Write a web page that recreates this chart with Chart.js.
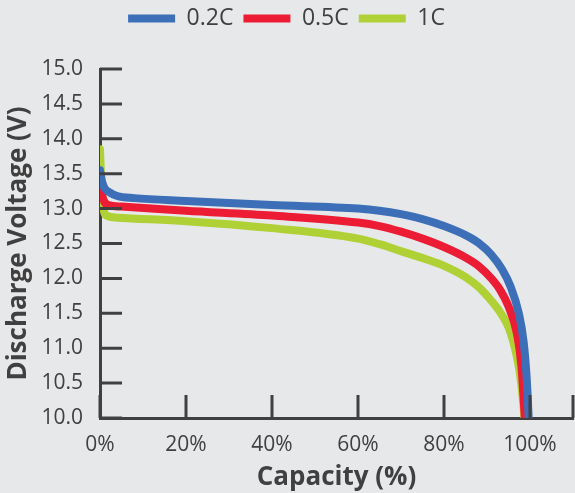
<!DOCTYPE html>
<html>
<head>
<meta charset="utf-8">
<script src="https://cdn.jsdelivr.net/npm/chart.js@4"></script>
<style>
  html, body { margin: 0; padding: 0; background: #e7e8ea; }
  #wrap { width: 575px; height: 493px; }
</style>
</head>
<body>
<div id="wrap"><canvas id="dischargeChart"></canvas></div>
<script>
// capacity (%) / voltage (V) pairs
const seriesNames = ["0.2C", "0.5C", "1C"];
const seriesColors = ["#3c6fb8", "#ed1c35", "#b0d135"];

const capacity02 = [0, 0.5, 1, 2, 4, 8, 20, 40, 60, 65, 70, 75, 80, 85, 88, 91, 93.5, 95.5, 97.4, 98.5, 99.2, 99.7];
const voltage02  = [13.55, 13.38, 13.3, 13.24, 13.18, 13.15, 13.11, 13.05, 13.0, 12.97, 12.92, 12.85, 12.75, 12.62, 12.51, 12.34, 12.13, 11.88, 11.5, 11.1, 10.6, 10.0];

const capacity05 = [0, 0.5, 1, 2, 5, 20, 40, 60, 65, 70, 75, 80, 85, 88, 91, 93, 95, 97, 98, 98.8];
const voltage05  = [13.5, 13.2, 13.1, 13.05, 13.03, 12.97, 12.9, 12.8, 12.75, 12.67, 12.57, 12.45, 12.3, 12.18, 12.0, 11.84, 11.6, 11.2, 10.75, 10.0];

const capacity1 = [0, 0.3, 0.8, 1.5, 4, 20, 40, 60, 65, 70, 76, 80, 85, 88, 91, 93, 95, 96.5, 97.5, 98.3, 98.7];
const voltage1  = [13.85, 13.4, 13.0, 12.9, 12.87, 12.82, 12.72, 12.57, 12.49, 12.39, 12.27, 12.18, 12.02, 11.88, 11.68, 11.52, 11.3, 11.0, 10.7, 10.3, 10.0];

const xTickValues = [0, 20, 40, 60, 80, 100, 110];
const xTickLabels = ["0%", "20%", "40%", "60%", "80%", "100%", ""];
const yTickValues = [10, 10.5, 11, 11.5, 12, 12.5, 13, 13.5, 14, 14.5, 15];

const axisColor = "#404040";
const fontFamily = "'Open Sans', sans-serif";

function toPoints(xs, ys) {
    return xs.map((x, i) => ({ x: x, y: ys[i] }));
}

const allSeries = [
    toPoints(capacity02, voltage02),
    toPoints(capacity05, voltage05),
    toPoints(capacity1, voltage1)
];

// tick marks drawn inward, like the original
const innerTicks = {
    id: "innerTicks",
    afterDatasetsDraw(chart) {
        const { ctx, chartArea, scales } = chart;
        ctx.save();
        ctx.strokeStyle = axisColor;
        ctx.lineWidth = 3;
        ctx.beginPath();
        scales.x.ticks.forEach(t => {
            const px = scales.x.getPixelForValue(t.value);
            ctx.moveTo(px, chartArea.bottom);
            ctx.lineTo(px, chartArea.bottom - 23);
        });
        scales.y.ticks.forEach(t => {
            const py = scales.y.getPixelForValue(t.value);
            ctx.moveTo(chartArea.left, py);
            ctx.lineTo(chartArea.left + 22, py);
        });
        ctx.stroke();
        ctx.restore();
    }
};

// extra room under the legend
const legendGap = {
    id: "legendGap",
    beforeInit(chart) {
        const origFit = chart.legend.fit;
        chart.legend.fit = function () {
            origFit.call(this);
            this.height = 72;
        };
    }
};

new Chart(document.getElementById("dischargeChart"), {
    type: "line",
    data: {
        datasets: allSeries.map((pts, i) => ({
            label: seriesNames[i],
            data: pts,
            borderColor: seriesColors[i],
            backgroundColor: seriesColors[i],
            borderWidth: 8,
            borderCapStyle: "round",
            pointRadius: 0,
            cubicInterpolationMode: "monotone",
            clip: 0
        }))
    },
    options: {
        responsive: true,
        maintainAspectRatio: false,
        animation: false,
        layout: { padding: { top: -3, right: 2, left: 0, bottom: 0 } },
        plugins: {
            tooltip: { enabled: false },
            legend: {
                position: "top",
                labels: {
                    usePointStyle: true,
                    pointStyle: "line",
                    boxWidth: 47,
                    pointStyleWidth: 47,
                    padding: 10,
                    color: axisColor,
                    font: { family: fontFamily, size: 23 }
                }
            }
        },
        scales: {
            x: {
                type: "linear",
                min: 0,
                max: 110,
                afterBuildTicks: s => { s.ticks = xTickValues.map(v => ({ value: v })); },
                afterFit: s => { s.height = 75; s.paddingRight = 0; },
                grid: { display: false, drawTicks: false },
                border: { display: true, color: axisColor, width: 3 },
                ticks: {
                    padding: 14,
                    color: axisColor,
                    font: { family: fontFamily, size: 21 },
                    callback: (v) => xTickLabels[xTickValues.indexOf(v)]
                },
                title: {
                    display: true,
                    text: "Capacity (%)",
                    color: axisColor,
                    padding: { top: -3, bottom: 0 },
                    font: { family: fontFamily, size: 26, weight: "bold" }
                }
            },
            y: {
                min: 10,
                max: 15,
                afterBuildTicks: s => { s.ticks = yTickValues.map(v => ({ value: v })); },
                afterFit: s => { s.width = 100; },
                grid: { display: false, drawTicks: false },
                border: { display: true, color: axisColor, width: 3 },
                ticks: {
                    padding: 17,
                    color: axisColor,
                    font: { family: fontFamily, size: 21 },
                    callback: (v) => v.toFixed(1)
                },
                title: {
                    display: true,
                    text: "Discharge Voltage (V)",
                    color: axisColor,
                    padding: { top: 3, bottom: 0 },
                    font: { family: fontFamily, size: 26, weight: "bold" }
                }
            }
        }
    },
    plugins: [innerTicks, legendGap]
});
</script>
</body>
</html>
